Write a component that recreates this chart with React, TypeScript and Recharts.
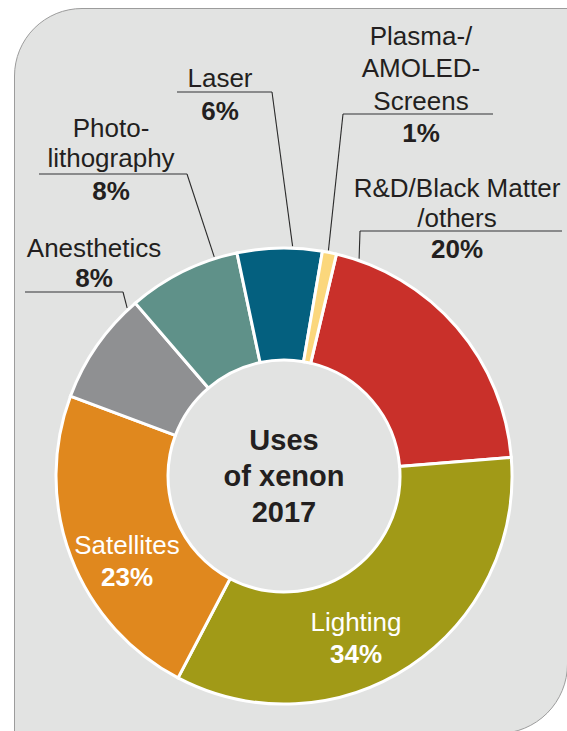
import { PieChart, Pie, Cell } from 'recharts';

// xenon uses 2017, clockwise from just right of 12 o'clock
const categories = ['R&D/Black Matter/others', 'Lighting', 'Satellites', 'Anesthetics', 'Photolithography', 'Laser', 'Plasma-/AMOLED-Screens'];
const shares = [20, 34, 23, 8, 8, 6, 1];
const labelLines = [
  ['R&D/Black Matter', '/others'],
  ['Lighting'],
  ['Satellites'],
  ['Anesthetics'],
  ['Photo-', 'lithography'],
  ['Laser'],
  ['Plasma-/', 'AMOLED-', 'Screens'],
];
const colors = ['#c9302a', '#a19a17', '#e0881e', '#8f9092', '#5f9189', '#04607f', '#fbd77c'];
const centerTitle = ['Uses', 'of xenon', '2017'];

const data = categories.map((name, i) => ({ name, value: shares[i] }));

// label placement (text center x, line baselines, percent baseline, rule [far x, elbow x, y], leader position inside slice)
const labelLayout: any[] = [
  { x: 457, lines: [197, 227], pct: 258, rule: [562, 360, 231], frac: 0.08 },
  { x: 356, lines: [631], pct: 663, inside: true },
  { x: 127, lines: [554], pct: 586, inside: true },
  { x: 94, lines: [257], pct: 287, rule: [25, 123, 292], frac: 0.92 },
  { x: 111, lines: [137, 167], pct: 200, rule: [39, 187, 174], frac: 0.8 },
  { x: 220, lines: [87], pct: 120, rule: [177, 272, 92], frac: 0.65 },
  { x: 421, lines: [45, 77, 110], pct: 142, rule: [493, 343, 114], frac: 0.4 },
];

const FONT = '"Liberation Sans", Arial, Helvetica, sans-serif';
const TEXT = '#231f20';
const RAD = Math.PI / 180;

function renderLabel(props: any) {
  const { index, cx, cy, outerRadius, startAngle, endAngle, value } = props;
  const lay = labelLayout[index];
  const fill = lay.inside ? '#ffffff' : TEXT;
  let leader = null;
  if (lay.rule) {
    const a = startAngle + (endAngle - startAngle) * lay.frac;
    const r = outerRadius + 2;
    const ex = cx + r * Math.cos(-a * RAD);
    const ey = cy + r * Math.sin(-a * RAD);
    leader = (
      <g>
        <line x1={lay.rule[0]} y1={lay.rule[2]} x2={lay.rule[1]} y2={lay.rule[2]} stroke="#6b6c6e" strokeWidth={1.4} />
        <line x1={lay.rule[1]} y1={lay.rule[2]} x2={ex} y2={ey} stroke="#2a2a2a" strokeWidth={1.1} />
      </g>
    );
  }
  return (
    <g key={`lbl-${index}`}>
      {leader}
      {labelLines[index].map((t, j) => (
        <text key={j} x={lay.x} y={lay.lines[j]} textAnchor="middle" fill={fill} fontFamily={FONT} fontSize={26}>
          {t}
        </text>
      ))}
      <text x={lay.x} y={lay.pct} textAnchor="middle" fill={fill} fontFamily={FONT} fontSize={26} fontWeight="bold">
        {`${value}%`}
      </text>
    </g>
  );
}

export default function App() {
  return (
    <div style={{ position: 'absolute', left: 0, top: 0, width: 567, height: 731, overflow: 'hidden', background: '#ffffff' }}>
      <div
        style={{
          position: 'absolute',
          left: 14,
          top: 8,
          width: 554,
          height: 726,
          boxSizing: 'border-box',
          background: '#e2e3e2',
          border: '1px solid #9c9c9c',
          borderTopLeftRadius: 68,
          borderBottomRightRadius: 70,
        }}
      />
      <div style={{ position: 'absolute', left: 0, top: 0 }}>
        <PieChart width={567} height={731} margin={{ top: 0, right: 0, bottom: 0, left: 0 }}>
          <Pie
            data={data}
            dataKey="value"
            nameKey="name"
            cx={284}
            cy={476}
            innerRadius={116}
            outerRadius={228}
            startAngle={76.7}
            endAngle={-283.3}
            stroke="#ffffff"
            strokeWidth={3}
            label={renderLabel}
            labelLine={false}
            isAnimationActive={false}
          >
            {data.map((d, i) => (
              <Cell key={d.name} fill={colors[i]} stroke="#ffffff" strokeWidth={3} />
            ))}
          </Pie>
          {centerTitle.map((t, i) => (
            <text key={t} x={284} y={450 + i * 36} textAnchor="middle" fill={TEXT} fontFamily={FONT} fontSize={29} fontWeight="bold">
              {t}
            </text>
          ))}
        </PieChart>
      </div>
    </div>
  );
}
